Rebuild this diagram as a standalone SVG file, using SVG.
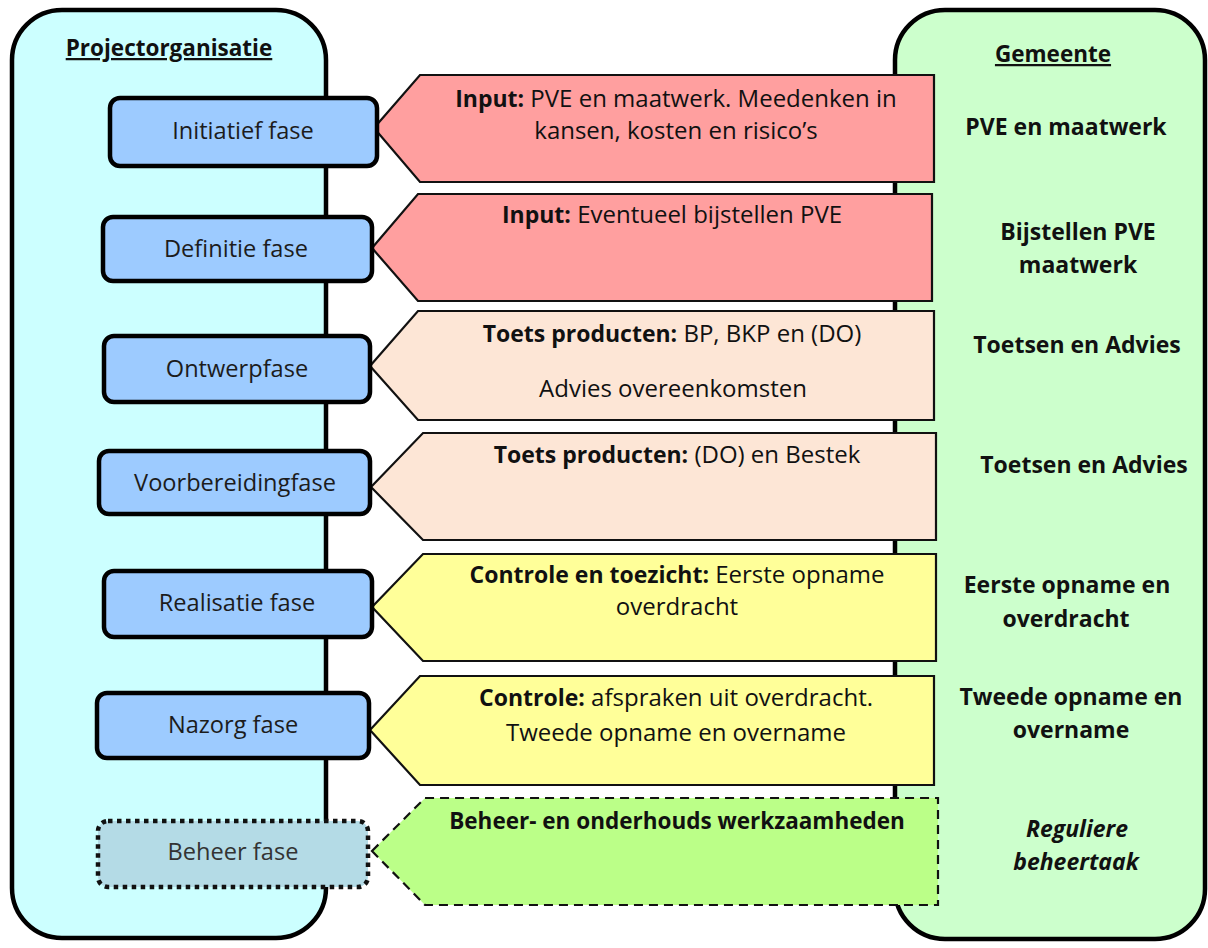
<svg xmlns="http://www.w3.org/2000/svg" width="1208" height="948" viewBox="0 0 1208 948">
<style>
text{font-family:"Open Sans","Noto Sans","Liberation Sans",sans-serif;fill:#111;}
.hdr{font-size:22.5px;font-weight:bold;text-decoration:underline;}
.ph{font-size:23.6px;text-anchor:middle;fill:#1c1c1c;}
.at{font-size:24px;text-anchor:middle;}
.at .b{font-size:23px;}
.rt{font-size:23px;font-weight:bold;text-anchor:middle;}
.b{font-weight:bold;}
.phase{fill:#9dcbff;stroke:#000;stroke-width:4.5;}
.arrow{stroke:#111;stroke-width:2.2;stroke-linejoin:miter;}
.pink{fill:#ff9f9f;}
.peach{fill:#fde6d6;}
.yellow{fill:#ffff99;}
.green{fill:#bbff88;stroke-dasharray:9 6;}
</style>
<rect width="1208" height="948" fill="#ffffff"/>
<g id="projectorganisatie">
<rect x="12" y="10" width="314" height="928" rx="50" ry="50" fill="#ccffff" stroke="#000" stroke-width="4.5"/>
<text class="hdr" x="169" y="56" text-anchor="middle">Projectorganisatie</text>
</g>
<g id="gemeente">
<rect x="895" y="10" width="310" height="929" rx="50" ry="50" fill="#ccffcc" stroke="#000" stroke-width="4.5"/>
<text class="hdr" x="1053" y="62" text-anchor="middle">Gemeente</text>
<text class="rt" x="1066" y="135">PVE en maatwerk</text>
<text class="rt" x="1078" y="240">Bijstellen PVE</text>
<text class="rt" x="1078" y="273">maatwerk</text>
<text class="rt" x="1077" y="353">Toetsen en Advies</text>
<text class="rt" x="1084" y="473">Toetsen en Advies</text>
<text class="rt" x="1067" y="593">Eerste opname en</text>
<text class="rt" x="1066" y="627">overdracht</text>
<text class="rt" x="1071" y="705">Tweede opname en</text>
<text class="rt" x="1071" y="738">overname</text>
<text class="rt" x="1077" y="837" font-style="italic" font-size="24">Reguliere</text>
<text class="rt" x="1076" y="870" font-style="italic" font-size="24">beheertaak</text>
</g>
<g id="connectors">
<g id="arrow-initiatief">
<polygon class="arrow pink" points="374,128 420,75 934,75 934,182 420,182"/>
<text class="at" x="676" y="107"><tspan class="b">Input:</tspan> PVE en maatwerk. Meedenken in</text>
<text class="at" x="676" y="139">kansen, kosten en risico’s</text>
</g>
<g id="arrow-definitie">
<polygon class="arrow pink" points="372,248 418,194 932,194 932,301 418,301"/>
<text class="at" x="672" y="223"><tspan class="b">Input:</tspan> Eventueel bijstellen PVE</text>
</g>
<g id="arrow-ontwerp">
<polygon class="arrow peach" points="370,366 418,311 934,311 934,420 418,420"/>
<text class="at" x="672" y="342"><tspan class="b">Toets producten:</tspan> BP, BKP en (DO)</text>
<text class="at" x="673" y="397">Advies overeenkomsten</text>
</g>
<g id="arrow-voorbereiding">
<polygon class="arrow peach" points="371,487 423,433 936,433 936,540 423,540"/>
<text class="at" x="677" y="463"><tspan class="b">Toets producten:</tspan> (DO) en Bestek</text>
</g>
<g id="arrow-realisatie">
<polygon class="arrow yellow" points="372,607 423,554 936,554 936,661 423,661"/>
<text class="at" x="677" y="583"><tspan class="b">Controle en toezicht:</tspan> Eerste opname</text>
<text class="at" x="677" y="615">overdracht</text>
</g>
<g id="arrow-nazorg">
<polygon class="arrow yellow" points="370,730 420,676 934,676 934,785 420,785"/>
<text class="at" x="676" y="706"><tspan class="b">Controle:</tspan> afspraken uit overdracht.</text>
<text class="at" x="676" y="741">Tweede opname en overname</text>
</g>
<g id="arrow-beheer">
<polygon class="arrow green" points="372,851 425,798 938,798 938,905 425,905"/>
<text class="at" x="677" y="829"><tspan class="b" style="font-size:22.5px">Beheer- en onderhouds werkzaamheden</tspan></text>
</g>
</g>
<g id="initiatief-fase">
<rect class="phase" x="110" y="98" width="267" height="68" rx="10"/>
<text class="ph" x="243" y="139">Initiatief fase</text>
</g>
<g id="definitie-fase">
<rect class="phase" x="103" y="217" width="269" height="64" rx="10"/>
<text class="ph" x="236" y="257">Definitie fase</text>
</g>
<g id="ontwerpfase">
<rect class="phase" x="104" y="336" width="266" height="66" rx="10"/>
<text class="ph" x="237" y="377">Ontwerpfase</text>
</g>
<g id="voorbereidingfase">
<rect class="phase" x="99" y="451" width="271" height="63" rx="10"/>
<text class="ph" x="235" y="491">Voorbereidingfase</text>
</g>
<g id="realisatie-fase">
<rect class="phase" x="104" y="571" width="268" height="66" rx="10"/>
<text class="ph" x="237" y="611">Realisatie fase</text>
</g>
<g id="nazorg-fase">
<rect class="phase" x="97" y="693" width="272" height="65" rx="10"/>
<text class="ph" x="233" y="733">Nazorg fase</text>
</g>
<g id="beheer-fase">
<rect x="98" y="821" width="270" height="66" rx="10" fill="#b4dbe6" stroke="#111" stroke-width="4.5" stroke-dasharray="4.5 4.5"/>
<text class="ph" x="233" y="860" style="fill:#333">Beheer fase</text>
</g>
</svg>
